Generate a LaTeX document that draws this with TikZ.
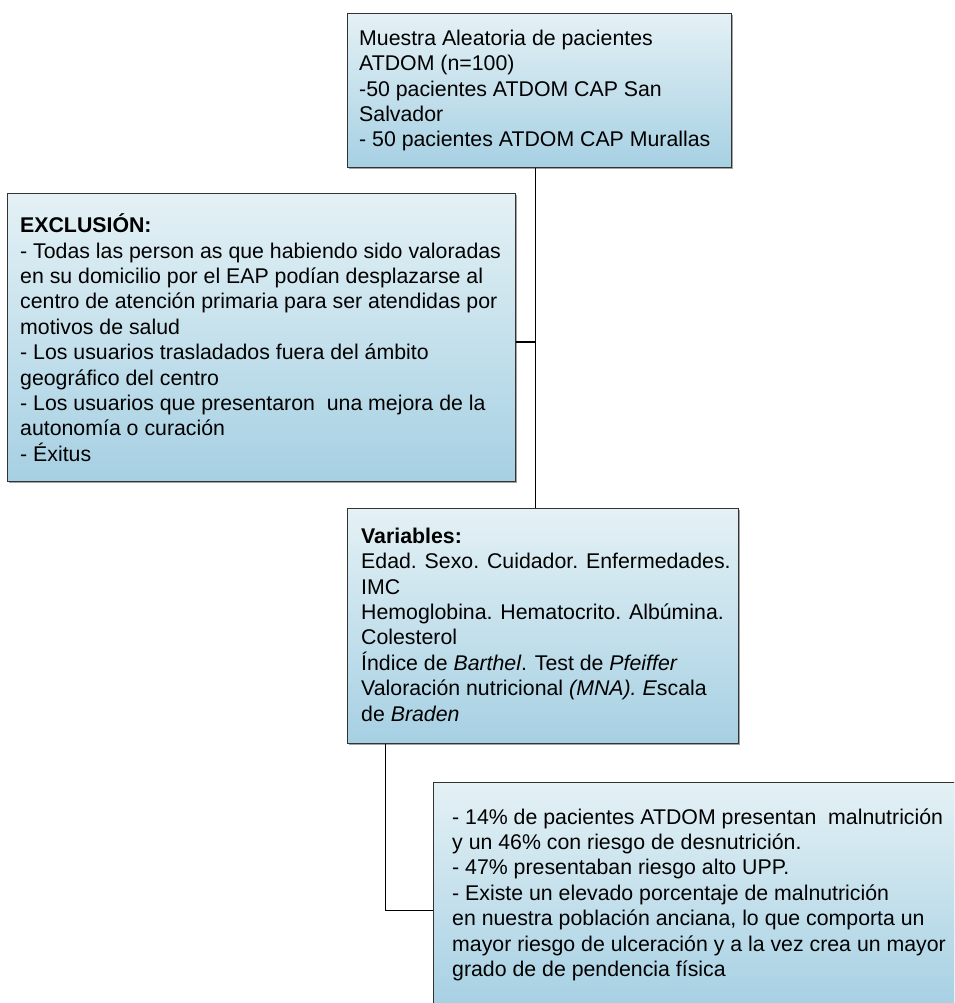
\documentclass[tikz,border=0pt]{standalone}
\usepackage{fontspec}
\setmainfont{Liberation Sans}
\usetikzlibrary{shadows}
\definecolor{boxtop}{HTML}{E4F1F5}
\definecolor{boxbot}{HTML}{A6D0E3}
\definecolor{boxline}{HTML}{333333}
\tikzset{
  box/.style={draw=boxline, line width=1.3pt, top color=boxtop, bottom color=boxbot,
    anchor=north west, inner sep=0pt, rectangle,
    drop shadow={shadow xshift=1.2pt, shadow yshift=-1.5pt, fill=black!60, opacity=0.6}},
  txt/.style={anchor=west, align=left, inner sep=0pt, font=\fontsize{21.3}{25.4}\selectfont},
  conn/.style={draw=black, line width=1.3pt}
}
\begin{document}
\begin{tikzpicture}[x=1pt,y=-1pt]
\useasboundingbox (0,0) rectangle (954,1003);
\clip (0,0) rectangle (954,1003);
\coordinate (vx) at (535.5,0);
\coordinate (hy) at (0,342);
\coordinate (vx2) at (385.7,0);
\coordinate (hy2) at (0,910.7);
% boxes
\node[box, minimum width=384pt, minimum height=154pt] (b1) at (347,13) {};
\node[box, minimum width=508pt, minimum height=288pt] (b2) at (7,193) {};
\node[box, minimum width=391pt, minimum height=235pt] (b3) at (347,508) {};
\node[box, minimum width=570pt, minimum height=224pt] (b4) at (433,782) {};
% connectors
\draw[conn] (b1.south -| vx) -- (b3.north -| vx);
\draw[conn] (b2.east |- hy) -- (hy -| vx);
\draw[conn] (b3.south -| vx2) |- (b4.west |- hy2);
% texts
\node[txt] (t1) at ([xshift=12pt]b1.west) {Muestra Aleatoria de pacientes\\ATDOM (n=100)\\-50 pacientes ATDOM CAP San\\Salvador\\- 50 pacientes ATDOM CAP Murallas};
\node[txt] (t2) at ([xshift=13pt]b2.west) {\textbf{EXCLUSIÓN:}\\- Todas las person as que habiendo sido valoradas\\en su domicilio por el EAP podían desplazarse al\\centro de atención primaria para ser atendidas por\\motivos de salud\\- Los usuarios trasladados fuera del ámbito\\geográfico del centro\\- Los usuarios que presentaron~ una mejora de la\\autonomía o curación\\- Éxitus};
\node[txt] (t3) at ([xshift=14pt,yshift=1.5pt]b3.west) {\textbf{Variables:}\\Edad. Sexo. Cuidador. Enfermedades.\\IMC\\Hemoglobina. Hematocrito. Albúmina.\\Colesterol\\Índice de \textit{Barthel}. Test de \textit{Pfeiffer}\\Valoración nutricional \textit{(MNA). E}scala\\de \textit{Braden}};
\node[txt] (t4) at ([xshift=19pt]b4.west) {- 14\% de pacientes ATDOM presentan~ malnutrición\\y un 46\% con riesgo de desnutrición.\\- 47\% presentaban riesgo alto UPP.\\- Existe un elevado porcentaje de malnutrición\\en nuestra población anciana, lo que comporta un\\mayor riesgo de ulceración y a la vez crea un mayor\\grado de de pendencia física};
\end{tikzpicture}
\end{document}
